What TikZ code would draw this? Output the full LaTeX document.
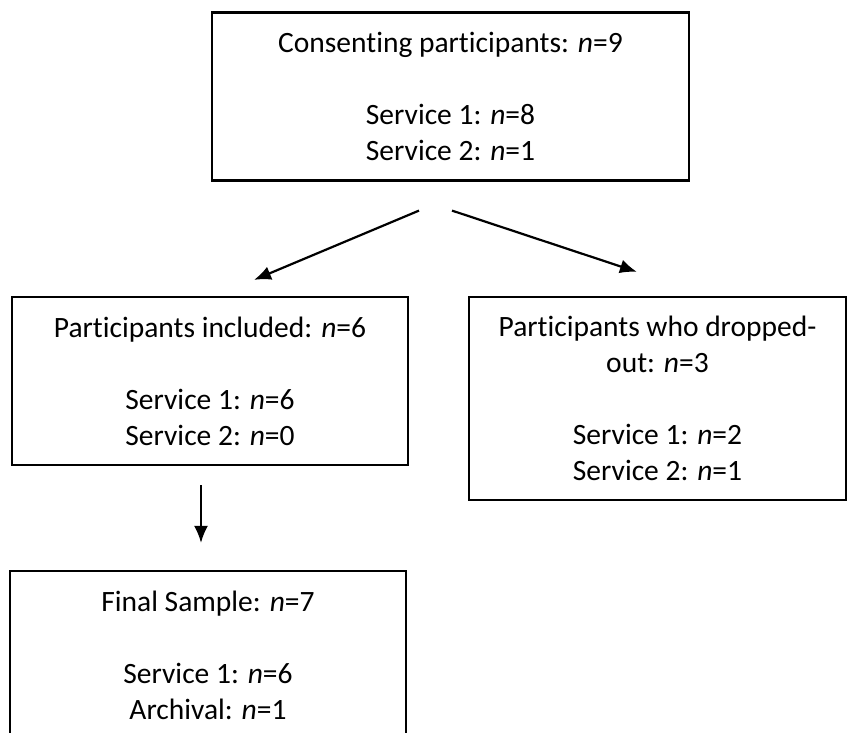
\documentclass[tikz,border=0pt]{standalone}
\usepackage{fontspec}
\setmainfont[Ligatures=NoCommon]{Carlito}
\usetikzlibrary{arrows.meta}

\begin{document}
\begin{tikzpicture}[x=1pt, y=-1pt,
	box/.style={draw, line width=2.2pt, inner sep=0pt, align=center, font=\fontsize{29.5}{36}\selectfont},
	flow/.style={line width=2.2pt, -{Latex[length=17pt, width=14pt]}}]
	\clip (0,0) rectangle (854,733);
	% Draw the boxes
	\node[box, minimum width=477pt, minimum height=168pt] (consent) at (450.5,96.5)
		{Consenting participants: \textit{n}=9\\[36pt]Service 1: \textit{n}=8\\Service 2: \textit{n}=1};
	\node[box, minimum width=396pt, minimum height=168pt] (included) at (210,381)
		{Participants included: \textit{n}=6\\[36pt]Service 1: \textit{n}=6\\Service 2: \textit{n}=0};
	\node[box, minimum width=377pt, minimum height=203pt] (dropped) at (657.5,398.5)
		{Participants who dropped-\\out: \textit{n}=3\\[36pt]Service 1: \textit{n}=2\\Service 2: \textit{n}=1};
	\node[box, minimum width=396pt, minimum height=168pt] (final) at (208,655)
		{Final Sample: \textit{n}=7\\[36pt]Service 1: \textit{n}=6\\Archival: \textit{n}=1};
	% Free ends of the arrows
	\coordinate (splitL) at ([shift={(-31.5,29)}]consent.south);
	\coordinate (splitR) at ([shift={(1.5,29)}]consent.south);
	\coordinate (inL) at ([shift={(44,-16)}]included.north);
	\coordinate (inR) at ([shift={(-20.5,-24)}]dropped.north);
	\coordinate (down1) at ([shift={(-9,19)}]included.south);
	\coordinate (down2) at ([shift={(-7,-27)}]final.north);
	% Draw the arrows
	\draw[flow] (splitL) -- (inL);
	\draw[flow] (splitR) -- (inR);
	\draw[flow] (down1) -- (down2);
\end{tikzpicture}
\end{document}
